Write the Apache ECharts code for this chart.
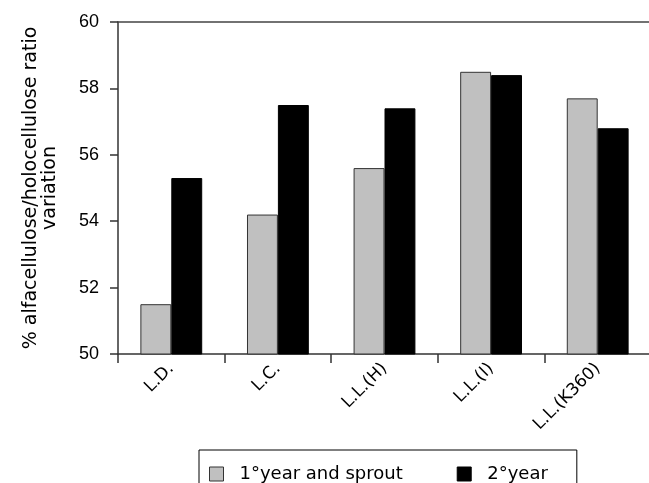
<!DOCTYPE html>
<html>
<head>
<meta charset="utf-8">
<script src="https://cdn.jsdelivr.net/npm/echarts@6/dist/echarts.min.js"></script>
<style>
html,body{margin:0;padding:0;background:#fff;}
#c{width:649px;height:483px;}
</style>
</head>
<body>
<div id="c"></div>
<script>
const categories = ["L.D.", "L.C.", "L.L.(H)", "L.L.(I)", "L.L.(K360)"];
const seriesNames = ["1°year and sprout", "2°year"];
const firstYear = [51.5, 54.2, 55.6, 58.5, 57.7];
const secondYear = [55.3, 57.5, 57.4, 58.4, 56.8];
const yTicks = {min: 50, max: 60, interval: 2};
const yTitle = "% alfacellulose/holocellulose ratio\nvariation";

const TXT = "DejaVu Sans, Verdana, sans-serif";
const NUM = "Liberation Sans, Arial, sans-serif";
const chart = echarts.init(document.getElementById('c'), null, {renderer: 'canvas'});
chart.setOption({
  animation: false,
  backgroundColor: '#fff',
  textStyle: {fontFamily: TXT},
  grid: {left: 118, top: 22, width: 533, bottom: 129, containLabel: false, outerBoundsMode: 'none'},
  legend: {
    left: 199, top: 450,
    orient: 'horizontal',
    itemWidth: 14, itemHeight: 14,
    itemGap: 54,
    padding: [15, 29, 20, 10],
    borderColor: '#000', borderWidth: 1,
    textStyle: {fontFamily: TXT, fontSize: 18, color: '#000', padding: [0, 0, 0, 11]},
    data: [
      {name: seriesNames[0], icon: 'rect', itemStyle: {color: '#c0c0c0', borderColor: '#333', borderWidth: 1}},
      {name: seriesNames[1], icon: 'rect', itemStyle: {color: '#000', borderColor: '#000', borderWidth: 1}}
    ]
  },
  xAxis: [{
    type: 'category',
    data: categories,
    position: 'bottom',
    axisLine: {show: true, lineStyle: {color: '#333', width: 1.5}},
    axisTick: {show: true, length: 9, lineStyle: {color: '#333', width: 1.5}},
    axisLabel: {rotate: 45, fontSize: 17, color: '#000', fontFamily: TXT, margin: 12, interval: 0}
  }, {
    type: 'category',
    data: categories,
    position: 'top',
    axisLine: {show: true, lineStyle: {color: '#444', width: 1.5}},
    axisTick: {show: false},
    axisLabel: {show: false}
  }],
  yAxis: {
    type: 'value',
    min: yTicks.min, max: yTicks.max, interval: yTicks.interval,
    name: yTitle,
    nameLocation: 'middle',
    nameGap: 58,
    nameRotate: 90,
    nameTextStyle: {fontSize: 19, color: '#000', fontFamily: TXT, lineHeight: 19, align: 'center'},
    axisLine: {show: true, lineStyle: {color: '#333', width: 1.5}},
    axisTick: {show: true, length: 8, lineStyle: {color: '#333', width: 1.5}},
    axisLabel: {fontSize: 18, color: '#000', fontFamily: NUM, margin: 19},
    splitLine: {show: false}
  },
  series: [{
    name: seriesNames[0],
    type: 'bar',
    data: firstYear,
    barGap: '0%',
    barCategoryGap: '42%',
    itemStyle: {color: '#c0c0c0', borderColor: '#333', borderWidth: 1}
  }, {
    name: seriesNames[1],
    type: 'bar',
    data: secondYear,
    itemStyle: {color: '#000', borderColor: '#000', borderWidth: 1}
  }]
});
</script>
</body>
</html>
